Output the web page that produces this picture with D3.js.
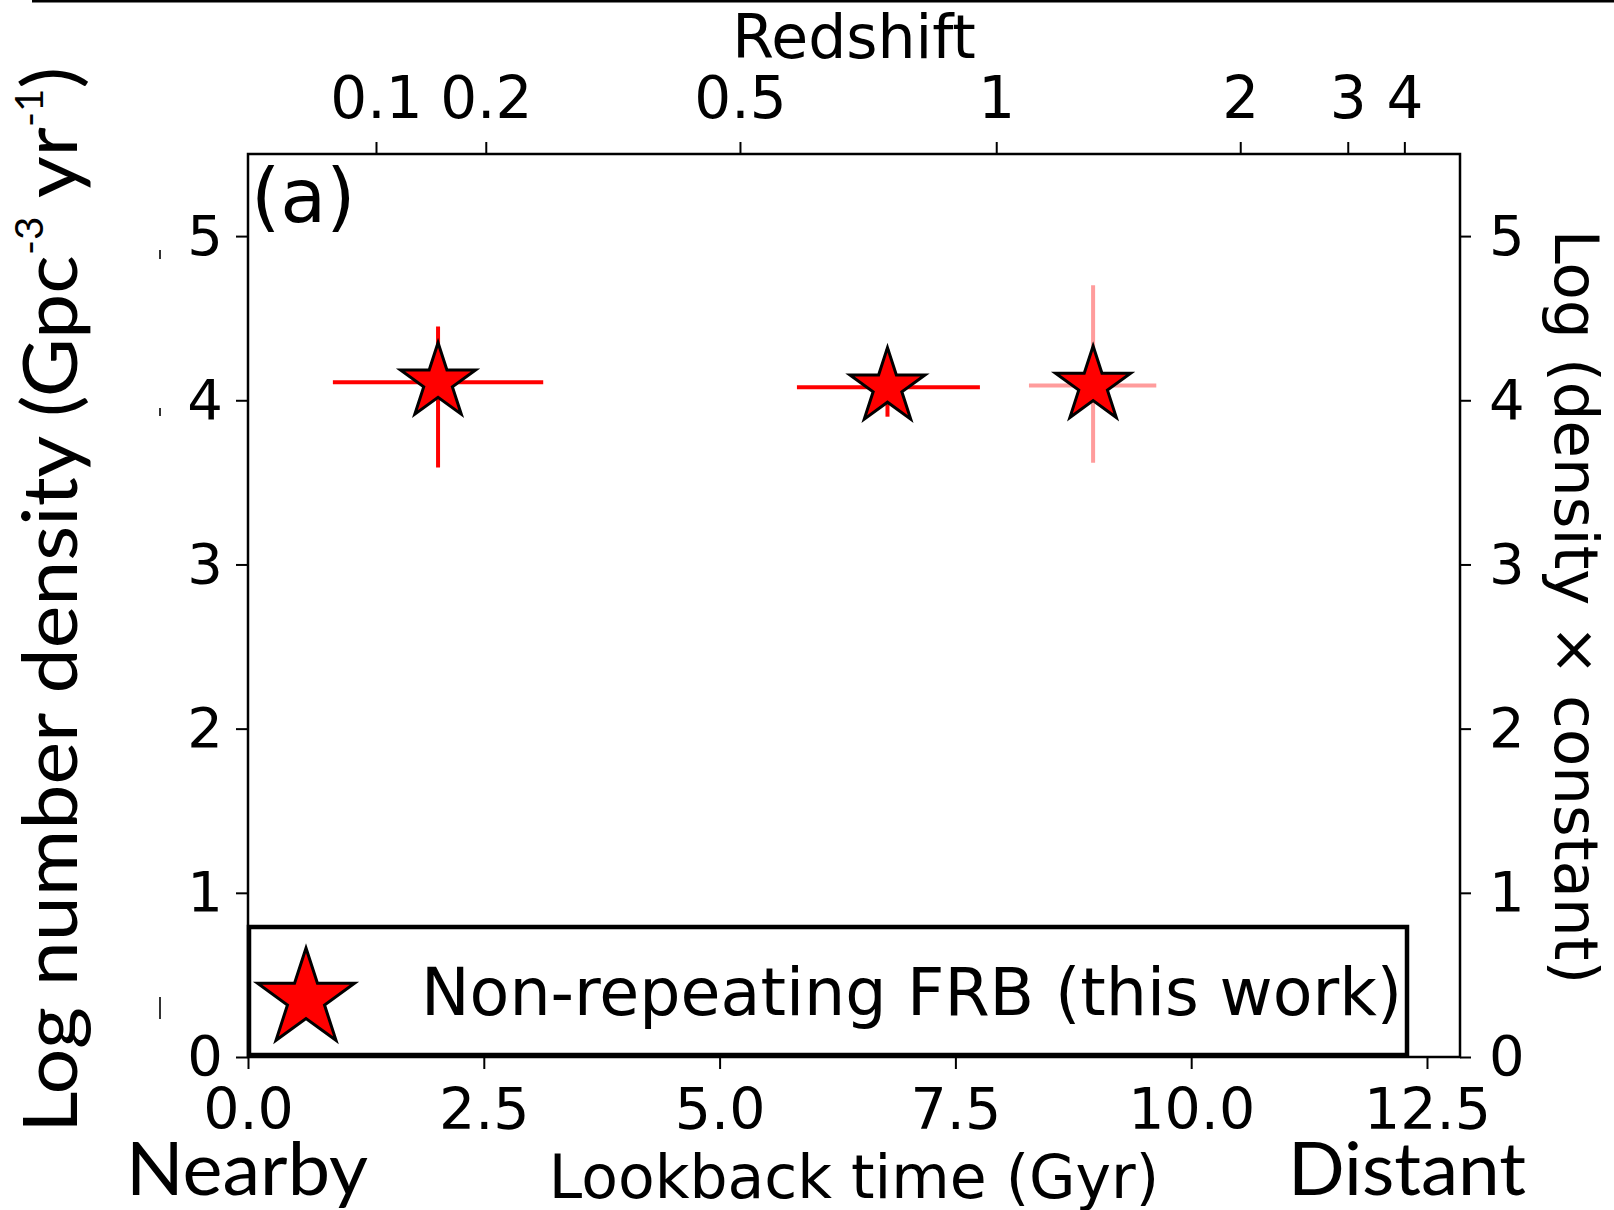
<!DOCTYPE html>
<html>
<head>
<meta charset="utf-8">
<script src="https://cdn.jsdelivr.net/npm/d3@7"></script>
<style>
  body { margin: 0; background: #fff; }
  svg { display: block; }
</style>
</head>
<body>
<div id="chart"></div>
<script>
// values (lookback time in Gyr, log density)
let lookback = [2.015, 6.78, 8.96];
let logDensity = [4.11, 4.08, 4.09];
let lookbackLow = [0.90, 5.82, 8.28];
let lookbackHigh = [3.13, 7.76, 9.63];
let densityLow = [3.59, 3.90, 3.62];
let densityHigh = [4.45, 4.31, 4.70];
let errColors = ["#ff0000", "#ff0000", "#ff9c9c"];

let bottomTicks = [0, 2.5, 5, 7.5, 10, 12.5];
let leftTicks = [0, 1, 2, 3, 4, 5];
let redshiftLabels = ["0.1", "0.2", "0.5", "1", "2", "3", "4"];
let redshiftLookback = [1.357, 2.521, 5.216, 7.933, 10.52, 11.66, 12.26];

let legendLabel = "Non-repeating FRB (this work)";

let margin = { top: 154, right: 154, bottom: 153, left: 248 },
  width = 1614 - margin.left - margin.right,
  height = 1210 - margin.top - margin.bottom;

let root = d3.select("#chart")
  .append("svg")
  .attr("width", 1614)
  .attr("height", 1210);

let svg = root.append("g")
  .attr("transform", "translate(" + margin.left + "," + margin.top + ")");

let x = d3.scaleLinear().domain([0, 12.85]).range([0, width]);
let y = d3.scaleLinear().domain([0, 5.5]).range([height, 0]);

function styleAxis(g, size) {
  g.select(".domain").remove();
  g.selectAll(".tick line").attr("stroke", "#000").attr("stroke-width", 2);
  g.selectAll(".tick text")
    .attr("fill", "#000")
    .style("font-family", "'DejaVu Sans'")
    .style("font-size", size + "px");
}

// bottom axis
svg.append("g")
  .attr("transform", "translate(0," + height + ")")
  .call(d3.axisBottom(x).tickValues(bottomTicks).tickFormat(d3.format(".1f"))
    .tickSize(12).tickPadding(20))
  .call(styleAxis, 57);

// top axis (redshift)
svg.append("g")
  .call(d3.axisTop(x).tickValues(redshiftLookback)
    .tickFormat(function (d, i) { return redshiftLabels[i]; })
    .tickSize(12).tickPadding(24))
  .call(styleAxis, 58);

// left axis
svg.append("g")
  .call(d3.axisLeft(y).tickValues(leftTicks).tickFormat(d3.format("d"))
    .tickSize(12).tickPadding(13))
  .call(styleAxis, 56);

// right axis
svg.append("g")
  .attr("transform", "translate(" + width + ",0)")
  .call(d3.axisRight(y).tickValues(leftTicks).tickFormat(d3.format("d"))
    .tickSize(11).tickPadding(18))
  .call(styleAxis, 56);

// frame
svg.append("rect")
  .attr("width", width)
  .attr("height", height)
  .attr("fill", "none")
  .attr("stroke", "#000")
  .attr("stroke-width", 2.5);

let idx = d3.range(lookback.length);

// error bars
svg.selectAll(".xerr").data(idx).enter().append("line")
  .attr("x1", function (i) { return x(lookbackLow[i]); })
  .attr("x2", function (i) { return x(lookbackHigh[i]); })
  .attr("y1", function (i) { return y(logDensity[i]); })
  .attr("y2", function (i) { return y(logDensity[i]); })
  .attr("stroke", function (i) { return errColors[i]; })
  .attr("stroke-width", 4);

svg.selectAll(".yerr").data(idx).enter().append("line")
  .attr("x1", function (i) { return x(lookback[i]); })
  .attr("x2", function (i) { return x(lookback[i]); })
  .attr("y1", function (i) { return y(densityLow[i]); })
  .attr("y2", function (i) { return y(densityHigh[i]); })
  .attr("stroke", function (i) { return errColors[i]; })
  .attr("stroke-width", 4);

// stars
let star = d3.symbol().type(d3.symbolStar).size(1751);
svg.selectAll(".star").data(idx).enter().append("path")
  .attr("d", star)
  .attr("transform", function (i) {
    return "translate(" + x(lookback[i]) + "," + y(logDensity[i]) + ")";
  })
  .attr("fill", "#ff0000")
  .attr("stroke", "#000")
  .attr("stroke-width", 3)
  .attr("stroke-linejoin", "miter");

// legend
let legend = root.append("g");
legend.append("rect")
  .attr("x", 249).attr("y", 927)
  .attr("width", 1158).attr("height", 128)
  .attr("fill", "#fff")
  .attr("stroke", "#000")
  .attr("stroke-width", 4.5);
legend.append("path")
  .attr("d", d3.symbol().type(d3.symbolStar).size(2920))
  .attr("transform", "translate(306,999)")
  .attr("fill", "#ff0000")
  .attr("stroke", "#000")
  .attr("stroke-width", 3);
legend.append("text")
  .attr("x", 421).attr("y", 1015)
  .style("font-family", "'DejaVu Sans'")
  .style("font-size", "65px")
  .text(legendLabel);

// panel letter
root.append("text")
  .attr("x", 251).attr("y", 222)
  .style("font-family", "'DejaVu Sans'")
  .style("font-size", "75px")
  .text("(a)");

// axis titles
root.append("text")
  .attr("x", 854).attr("y", 58)
  .attr("text-anchor", "middle")
  .style("font-family", "'DejaVu Sans'")
  .style("font-size", "60px")
  .text("Redshift");

root.append("text")
  .attr("x", 854).attr("y", 1198)
  .attr("text-anchor", "middle")
  .style("font-family", "'DejaVu Sans'")
  .style("font-size", "60px")
  .text("Lookback time (Gyr)");

root.append("text")
  .attr("transform", "translate(1555,607) rotate(90)")
  .attr("text-anchor", "middle")
  .style("font-family", "'DejaVu Sans'")
  .style("font-size", "61px")
  .text("Log (density \u00d7 constant)");

let ylab = root.append("text")
  .attr("transform", "translate(77,600) rotate(-90)")
  .attr("text-anchor", "middle")
  .attr("textLength", 1066)
  .attr("lengthAdjust", "spacingAndGlyphs")
  .style("font-family", "Lato")
  .style("font-size", "76px");
ylab.append("tspan").text("Log number density (Gpc");
ylab.append("tspan").attr("dy", -34).style("font-size", "38px").text("-3");
ylab.append("tspan").attr("dy", 34).text(" yr");
ylab.append("tspan").attr("dy", -34).style("font-size", "38px").text("-1");
ylab.append("tspan").attr("dy", 34).text(")");

root.append("text")
  .attr("x", 126).attr("y", 1195)
  .attr("textLength", 242)
  .attr("lengthAdjust", "spacingAndGlyphs")
  .style("font-family", "Lato")
  .style("font-size", "73px")
  .text("Nearby");

root.append("text")
  .attr("x", 1288).attr("y", 1195)
  .attr("textLength", 238)
  .attr("lengthAdjust", "spacingAndGlyphs")
  .style("font-family", "Lato")
  .style("font-size", "73px")
  .text("Distant");

// top rule and small marks at the left edge of the source figure
root.append("line")
  .attr("x1", 32).attr("x2", 1614)
  .attr("y1", 1.2).attr("y2", 1.2)
  .attr("stroke", "#000").attr("stroke-width", 2.5);

let edgeMarks = [[250, 259], [408, 416], [997, 1019]];
root.selectAll(".mark").data(edgeMarks).enter().append("line")
  .attr("x1", 160).attr("x2", 160)
  .attr("y1", function (d) { return d[0]; })
  .attr("y2", function (d) { return d[1]; })
  .attr("stroke", "#333").attr("stroke-width", 2);
</script>
</body>
</html>
